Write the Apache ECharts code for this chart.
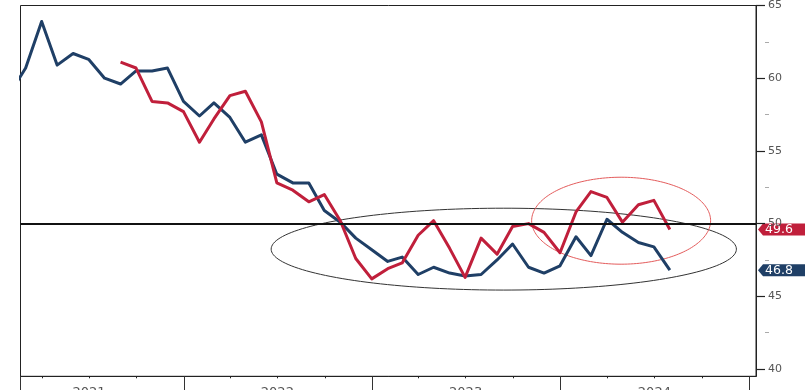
<!DOCTYPE html>
<html>
<head>
<meta charset="utf-8">
<script src="https://cdn.jsdelivr.net/npm/echarts@6/dist/echarts.min.js"></script>
<style>
  html, body { margin: 0; padding: 0; background: #ffffff; }
  #chart { width: 805px; height: 390px; }
</style>
</head>
<body>
<div id="chart"></div>
<script>
// Monthly observations (plotted at month end)
const months = [
  '2021-01','2021-02','2021-03','2021-04','2021-05','2021-06','2021-07','2021-08','2021-09','2021-10','2021-11','2021-12',
  '2022-01','2022-02','2022-03','2022-04','2022-05','2022-06','2022-07','2022-08','2022-09','2022-10','2022-11','2022-12',
  '2023-01','2023-02','2023-03','2023-04','2023-05','2023-06','2023-07','2023-08','2023-09','2023-10','2023-11','2023-12',
  '2024-01','2024-02','2024-03','2024-04','2024-05','2024-06','2024-07'
];

// Manufacturing PMI (blue)
const pmiValues = [
  59.1, 60.7, 63.9, 60.9, 61.7, 61.3, 60.0, 59.6, 60.5, 60.5, 60.7, 58.4,
  57.4, 58.3, 57.3, 55.6, 56.1, 53.4, 52.8, 52.8, 50.9, 50.1, 49.0, 48.2,
  47.4, 47.7, 46.5, 47.0, 46.6, 46.4, 46.5, 47.5, 48.6, 47.0, 46.6, 47.1,
  49.1, 47.8, 50.3, 49.4, 48.7, 48.4, 46.8
];

// Leading indicator (red), starts August 2021
const leadValues = [
  null, null, null, null, null, null, null, 61.1, 60.7, 58.4, 58.3, 57.7,
  55.6, 57.2, 58.8, 59.1, 57.0, 52.8, 52.3, 51.5, 52.0, 50.2, 47.6, 46.2,
  46.9, 47.3, 49.2, 50.2, 48.3, 46.3, 49.0, 47.9, 49.8, 50.0, 49.4, 48.0,
  50.8, 52.2, 51.8, 50.1, 51.3, 51.6, 49.6
];

// Axis ticks and labels
const yTickValues = [40, 45, 50, 55, 60, 65];
const yMinorTickValues = [42.5, 47.5, 52.5, 57.5, 62.5];
const quarterTicks = [
  '2021-04-01','2021-07-01','2021-10-01',
  '2022-04-01','2022-07-01','2022-10-01',
  '2023-04-01','2023-07-01','2023-10-01',
  '2024-04-01','2024-07-01','2024-10-01'
];
const yearBoundaries = ['2022-01-01','2023-01-01','2024-01-01','2025-01-01'];
const yearLabelDates = ['2021-07-01','2022-07-01','2023-07-01','2024-07-01'];
const axisStart = '2021-02-18';
const axisEnd = '2025-01-14';
const threshold = 50;

// Highlighted zones (date span and value span)
const zoneFlat = { from: '2022-06-19', to: '2024-12-07', low: 45.43, high: 51.06 };
const zoneRebound = { from: '2023-11-06', to: '2024-10-18', low: 47.21, high: 53.19 };

const BLUE = '#1f3f66';
const RED = '#c01f3b';
const FONT = 'DejaVu Sans';

function ts(s) {
  const p = s.split('-').map(Number);
  return Date.UTC(p[0], p[1] - 1, p[2]);
}
function monthEnd(m) {
  const p = m.split('-').map(Number);
  return Date.UTC(p[0], p[1], 0);
}

const pmiData = months.map((m, i) => [monthEnd(m), pmiValues[i]]);
const leadData = months
  .map((m, i) => [monthEnd(m), leadValues[i]])
  .filter(d => d[1] !== null);

const chart = echarts.init(document.getElementById('chart'), null, { renderer: 'canvas' });

const option = {
  animation: false,
  backgroundColor: '#ffffff',
  grid: {
    left: 20.5, right: 49, top: 5.5, bottom: 13.7,
    outerBoundsMode: 'none', containLabel: false,
    show: true, borderColor: '#222', borderWidth: 1, backgroundColor: 'transparent'
  },
  xAxis: [
    {
      type: 'value', min: ts(axisStart), max: ts(axisEnd), position: 'bottom',
      axisLine: { show: true, lineStyle: { color: '#222', width: 1 } },
      axisTick: { show: true, customValues: quarterTicks.map(ts), length: 2, lineStyle: { color: '#222' } },
      axisLabel: { show: false },
      splitLine: { show: false }
    },
    {
      type: 'value', min: ts(axisStart), max: ts(axisEnd), position: 'bottom',
      axisLine: { show: false },
      axisTick: {
        show: true, customValues: [ts(axisStart)].concat(yearBoundaries.map(ts)),
        length: 16, lineStyle: { color: '#333' }
      },
      axisLabel: {
        show: true, customValues: yearLabelDates.map(ts), margin: 10,
        fontFamily: FONT, fontSize: 13, color: '#555',
        formatter: v => String(new Date(v).getUTCFullYear())
      },
      splitLine: { show: false }
    }
  ],
  yAxis: [
    {
      type: 'value', position: 'right', min: 39.5, max: 65,
      axisLine: { show: true, lineStyle: { color: '#222' } },
      axisTick: { show: true, customValues: yTickValues, length: 9, lineStyle: { color: '#222', width: 1.2 } },
      axisLabel: { show: true, customValues: yTickValues, margin: 12, fontFamily: FONT, fontSize: 11, color: '#555' },
      splitLine: { show: false }
    },
    {
      type: 'value', position: 'right', offset: 9, min: 39.5, max: 65,
      axisLine: { show: false },
      axisTick: { show: true, customValues: yMinorTickValues, length: 4, lineStyle: { color: '#aaa' } },
      axisLabel: { show: false },
      splitLine: { show: false }
    }
  ],
  series: [
    {
      name: 'PMI', type: 'line', xAxisIndex: 0, yAxisIndex: 0,
      data: pmiData, showSymbol: false, z: 3,
      lineStyle: { color: BLUE, width: 3, join: 'round' },
      itemStyle: { color: BLUE },
      markLine: {
        silent: true, symbol: 'none', animation: false,
        label: { show: false },
        lineStyle: { color: '#111', width: 2, type: 'solid' },
        data: [{ yAxis: threshold }]
      }
    },
    {
      name: 'Lead', type: 'line', xAxisIndex: 0, yAxisIndex: 0,
      data: leadData, showSymbol: false, z: 4,
      lineStyle: { color: RED, width: 3, join: 'round' },
      itemStyle: { color: RED }
    }
  ]
};

chart.setOption(option);

// Annotation ellipses and last-value tags, placed through the chart's own scales
function toPx(date, value) {
  return chart.convertToPixel({ xAxisIndex: 0, yAxisIndex: 0 }, [date, value]);
}
function ellipsePoints(zone) {
  const a = toPx(ts(zone.from), zone.high);
  const b = toPx(ts(zone.to), zone.low);
  const cx = (a[0] + b[0]) / 2, cy = (a[1] + b[1]) / 2;
  const rx = Math.abs(b[0] - a[0]) / 2, ry = Math.abs(b[1] - a[1]) / 2;
  const pts = [];
  for (let i = 0; i < 180; i++) {
    const t = (i / 180) * Math.PI * 2;
    pts.push([cx + rx * Math.cos(t), cy + ry * Math.sin(t)]);
  }
  return pts;
}
function valueTag(value, color) {
  const y = chart.convertToPixel({ yAxisIndex: 0 }, value);
  const x0 = 758, h = 6;
  return {
    type: 'group', z: 10,
    children: [
      {
        type: 'polygon',
        shape: { points: [[x0, y], [x0 + 5, y - h], [806, y - h], [806, y + h], [x0 + 5, y + h]] },
        style: { fill: color }
      },
      {
        type: 'text', x: x0 + 7, y: y + 0.5,
        style: {
          text: value.toFixed(1), fill: '#fff', font: '12.5px "' + FONT + '"',
          verticalAlign: 'middle', textAlign: 'left'
        }
      }
    ]
  };
}

const lastPmi = pmiValues[pmiValues.length - 1];
const lastLead = leadValues[leadValues.length - 1];

chart.setOption({
  graphic: [
    { type: 'polygon', z: 1, silent: true, shape: { points: ellipsePoints(zoneFlat) },
      style: { fill: 'none', stroke: '#333', lineWidth: 1 } },
    { type: 'polygon', z: 1, silent: true, shape: { points: ellipsePoints(zoneRebound) },
      style: { fill: 'none', stroke: '#e45c5c', lineWidth: 1 } },
    valueTag(lastLead, RED),
    valueTag(lastPmi, BLUE)
  ]
});
</script>
</body>
</html>
